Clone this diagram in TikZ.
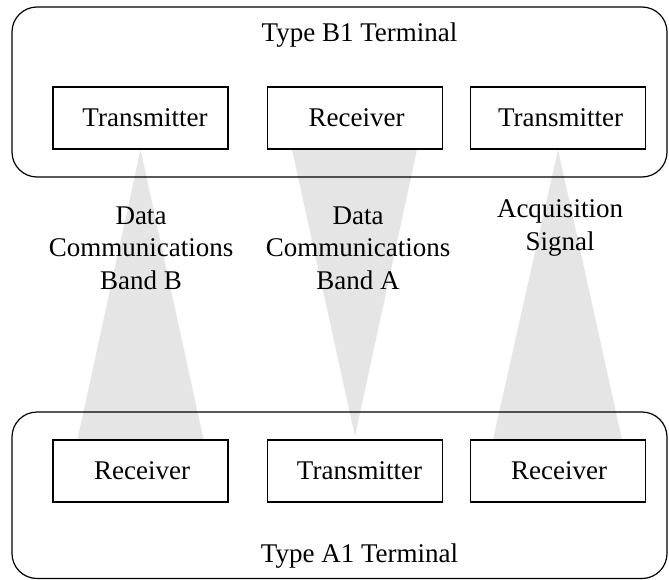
\documentclass[tikz,border=0pt]{standalone}
\usepackage{fontspec}
\setmainfont{Liberation Serif}
\usetikzlibrary{calc,backgrounds}
\begin{document}
\begin{tikzpicture}[x=1pt,y=-1pt,
  terminal/.style={draw,line width=1.2pt,rounded corners=25pt},
  unit/.style={draw,fill=white,line width=1.2pt,minimum width=175pt,
    minimum height=62pt,inner sep=0pt,font=\fontsize{27}{32.4}\selectfont},
  lbl/.style={font=\fontsize{27}{32.4}\selectfont,inner sep=0pt,align=center},
  beam/.style={fill=gray!20}]
\useasboundingbox (0,0) rectangle (669,580);

% terminal outlines
\draw[terminal] (12,7) rectangle (667,177);
\draw[terminal] (12,412) rectangle (667,578.5);
\node[lbl,anchor=base] (tb1) at (359.5,42) {Type B1 Terminal};
\node[lbl,anchor=base] (ta1) at (359.5,562) {Type A1 Terminal};

% units of terminal B1
\node[unit] (btx1) at (140.5,118) {\hspace*{9pt}Transmitter};
\node[unit] (brx)  at (355,118)   {\hspace*{3pt}Receiver};
\node[unit] (btx2) at (558,118)   {\hspace*{5pt}Transmitter};

% units of terminal A1
\node[unit] (arx1) at (140.5,471) {\hspace*{3pt}Receiver};
\node[unit] (atx)  at (355,471)   {\hspace*{9pt}Transmitter};
\node[unit] (arx2) at (558,471)   {\hspace*{2pt}Receiver};

% radio beams between the units
\begin{scope}[on background layer]
  \fill[beam] (btx1.south) -- ($(arx1.north)+(-63,0)$) -- ($(arx1.north)+(63,0)$) -- cycle;
  \fill[beam] ($(brx.south)+(-63,0)$) -- ($(brx.south)+(62,0)$) -- ($(atx.north)+(0,-3)$) -- cycle;
  \fill[beam] (btx2.south) -- ($(arx2.north)+(-65,0)$) -- ($(arx2.north)+(64,0)$) -- cycle;
\end{scope}

% beam labels (anchored at the baseline of the last line)
\node[lbl,anchor=base] (lb) at (141,289) {Data\\Communications\\Band B};
\node[lbl,anchor=base] (la) at (358,289) {Data\\Communications\\Band A};
\node[lbl,anchor=base] (lq) at (560,250) {Acquisition\\Signal};
\end{tikzpicture}
\end{document}
